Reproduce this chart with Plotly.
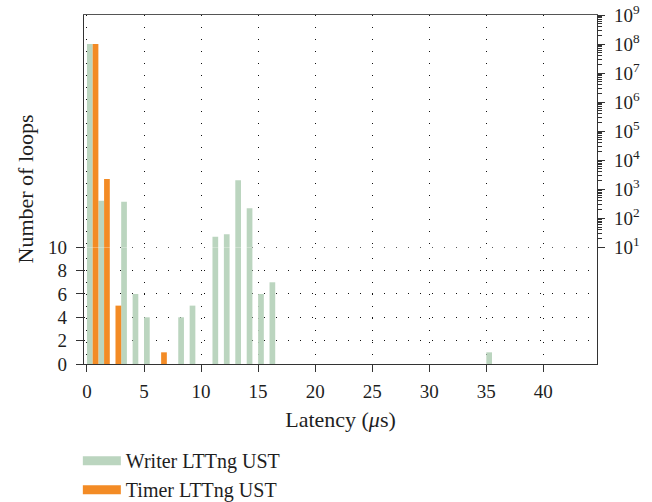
import plotly.graph_objects as go

# ---- data ----
writer_bins = [0, 1, 3, 4, 5, 8, 9, 11, 12, 13, 14, 15, 16, 35]
writer_counts = [1.0e8, 390, 360, 6, 4, 4, 5, 13, 18, 2050, 210, 6, 7, 1]
timer_bins = [0, 1, 2, 6]
timer_counts = [1.0e8, 2240, 5, 1]

x_ticks = [0, 5, 10, 15, 20, 25, 30, 35, 40]
lin_ticks = [0, 2, 4, 6, 8, 10]
log_tickvals = [10 ** k for k in range(1, 10)]
log_ticktext = ["10<sup>%d</sup>" % k for k in range(1, 10)]

BREAK = 10  # linear below, log above

GREEN = "#BBD5BF"
ORANGE = "#F38B25"
FONT = "Liberation Serif"
TXT = "#1e1e1e"
AX = "#333333"
DOTS = "1px,11px"


def above(vals):
    return [v if v > BREAK else None for v in vals]


fig = go.Figure()

# bottom (linear) part
fig.add_trace(go.Bar(x=writer_bins, y=writer_counts, width=0.5, offset=0,
                     marker=dict(color=GREEN, line=dict(width=0)),
                     xaxis="x", yaxis="y", showlegend=False))
fig.add_trace(go.Bar(x=timer_bins, y=timer_counts, width=0.5, offset=0.5,
                     marker=dict(color=ORANGE, line=dict(width=0)),
                     xaxis="x", yaxis="y", showlegend=False))
# top (log) part
fig.add_trace(go.Bar(x=writer_bins, y=above(writer_counts), base=BREAK, width=0.5, offset=0,
                     marker=dict(color=GREEN, line=dict(width=0)),
                     xaxis="x2", yaxis="y2", showlegend=False))
fig.add_trace(go.Bar(x=timer_bins, y=above(timer_counts), base=BREAK, width=0.5, offset=0.5,
                     marker=dict(color=ORANGE, line=dict(width=0)),
                     xaxis="x2", yaxis="y2", showlegend=False))

# legend entries
fig.add_trace(go.Scatter(x=[None], y=[None], mode="lines", name="Writer LTTng UST",
                         line=dict(color=GREEN, width=9), legendgroup="a"))
fig.add_trace(go.Scatter(x=[None], y=[None], mode="lines", name="Timer LTTng UST",
                         line=dict(color=ORANGE, width=9), legendgroup="b"))

H = 349.0
lin_top = 117.9 / H
log_bot = 116.7 / H

fig.update_layout(
    width=652, height=502,
    margin=dict(l=84, r=55, t=15, b=138, autoexpand=False),
    paper_bgcolor="white", plot_bgcolor="white",
    barmode="overlay",
    font=dict(family=FONT, color=TXT, size=19),
    xaxis=dict(domain=[0, 1], range=[-0.26, 44.7], anchor="y",
               tickvals=x_ticks, ticks="outside", ticklen=7, tickwidth=1.3, tickcolor=AX,
               showline=True, linecolor=AX, linewidth=1.3, ticklabelstandoff=3,
               showgrid=True, gridcolor="#111", gridwidth=1, griddash=DOTS,
               zeroline=False, tickfont=dict(size=19),
               title=dict(text="Latency (<i>μ</i>s)", font=dict(size=22), standoff=10)),
    xaxis2=dict(domain=[0, 1], matches="x", anchor="y2", side="top",
                showticklabels=False, ticks="",
                showline=True, linecolor="#555", linewidth=1.3,
                showgrid=True, gridcolor="#111", gridwidth=1, griddash=DOTS,
                zeroline=False, tickvals=x_ticks),
    yaxis=dict(domain=[0, lin_top], range=[0, 10.1], anchor="x",
               tickvals=lin_ticks, ticks="outside", ticklen=7, tickwidth=1.3, tickcolor=AX,
               showline=True, mirror=True, linecolor=AX, linewidth=1.3, ticklabelstandoff=5,
               showgrid=True, gridcolor="#111", gridwidth=1, griddash=DOTS,
               zeroline=False, tickfont=dict(size=19)),
    yaxis2=dict(domain=[log_bot, 1], type="log", range=[1, 9.002], anchor="x2", side="right",
                tickvals=log_tickvals, ticktext=log_ticktext, ticklabeloverflow="allow",
                ticks="outside", ticklen=7, tickwidth=1.3, tickcolor=AX, ticklabelstandoff=5,
                minor=dict(ticks="outside", ticklen=3.5, tickwidth=1, tickcolor=AX,
                           dtick="D1", showgrid=False),
                showline=True, mirror=True, linecolor=AX, linewidth=1.3,
                showgrid=False, zeroline=False, tickfont=dict(size=19)),
    legend=dict(x=-0.012, y=-0.221, xanchor="left", yanchor="top",
                font=dict(size=20), bgcolor="rgba(0,0,0,0)", itemwidth=38,
                traceorder="grouped", tracegroupgap=0),
    annotations=[dict(text="Number of loops", textangle=-90, x=-0.115, y=0.5,
                      xref="paper", yref="paper", xanchor="center", yanchor="middle",
                      showarrow=False, font=dict(size=22))],
)

fig.write_html("out.html",
               config={"displayModeBar": False},
               post_script="document.body.style.margin='0px';"
                           "document.body.style.overflow='hidden';")
